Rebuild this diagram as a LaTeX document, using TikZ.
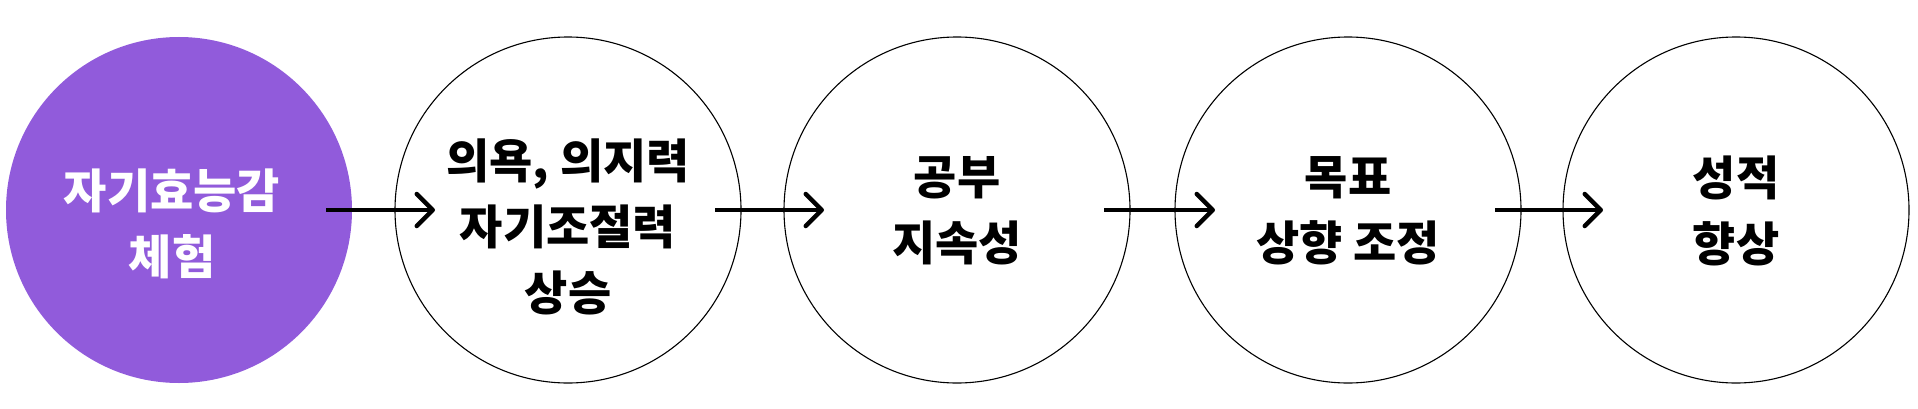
\documentclass[tikz,border=0pt]{standalone}
\usepackage{fontspec}
\newfontfamily\kr{Noto Sans CJK KR}
\usetikzlibrary{arrows.meta}
\definecolor{bubble}{RGB}{145,91,219}
\begin{document}
\begin{tikzpicture}[x=1pt,y=1pt,
  circ/.style={circle,draw=black,line width=1.1pt,minimum size=346pt,inner sep=0pt},
  firstcirc/.style={circle,fill=bubble,draw=none,minimum size=346pt,inner sep=0pt},
  lbl/.style={align=center,inner sep=0pt,font={\kr\bfseries\fontsize{47}{66}\selectfont}},
  flow/.style={line width=4.5pt,shorten <=147pt,shorten >=133pt,
    -{Straight Barb[length=16pt,width=32pt,line cap=round,line join=round]}}]
\useasboundingbox (0,0) rectangle (1918,408);
\node[firstcirc] (c1) at (179,198) {};
\node[circ] (c2) at (568,198) {};
\node[circ] (c3) at (957,198) {};
\node[circ] (c4) at (1348,198) {};
\node[circ] (c5) at (1736,198) {};
\node[lbl,text=white] (t1) at (172,184) {자기효능감\\체험};
\node[lbl] (t2) at (568,181.5) {의욕, 의지력\\자기조절력\\상승};
\node[lbl] (t3) at (957,197.5) {공부\\지속성};
\node[lbl] (t4) at (1348,197.5) {목표\\상향 조정};
\node[lbl] (t5) at (1736,197.5) {성적\\향상};
\draw[flow] (c1.center) -- (c2.center);
\draw[flow] (c2.center) -- (c3.center);
\draw[flow] (c3.center) -- (c4.center);
\draw[flow] (c4.center) -- (c5.center);
\end{tikzpicture}
\end{document}
